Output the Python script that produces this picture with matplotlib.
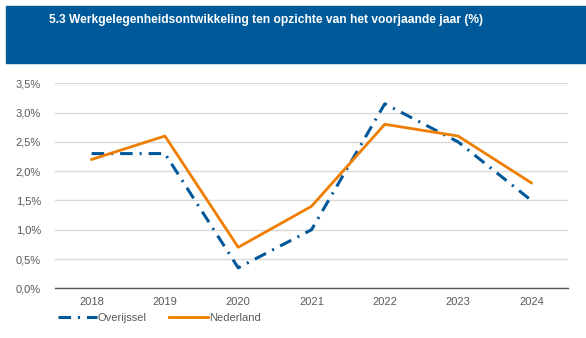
import matplotlib
matplotlib.use('Agg')
import matplotlib.pyplot as plt
from matplotlib.patches import Rectangle
from matplotlib.ticker import FuncFormatter

years = ['2018', '2019', '2020', '2021', '2022', '2023', '2024']
overijssel = [2.3, 2.3, 0.35, 1.0, 3.15, 2.5, 1.5]
nederland = [2.2, 2.6, 0.7, 1.4, 2.8, 2.6, 1.8]
title = '5.3 Werkgelegenheidsontwikkeling ten opzichte van het voorjaande jaar (%)'

plt.rcParams['font.family'] = ['Liberation Sans', 'DejaVu Sans']
plt.rcParams['lines.scale_dashes'] = False

W, H = 586, 338
fig = plt.figure(figsize=(W / 100, H / 100), dpi=100)

# blue header band
fig.patches.append(Rectangle((6 / W, 1 - 63 / H), 1 - 6 / W, 57 / H,
                             transform=fig.transFigure, color='#005A9A', zorder=0))
fig.text(49 / W, 1 - 20.5 / H, title, color='white', fontsize=8.65,
         fontweight='bold', va='center', ha='left')

ax = fig.add_axes([55 / W, 1 - 288.3 / H, 513 / W, 205 / H])
x = range(len(years))
ax.plot(x, overijssel, color='#00589A', lw=2.2,
        linestyle=(0, (9, 5, 1.5, 5)), label='Overijssel')
ax.plot(x, nederland, color='#EE7D00', lw=2.0, label='Nederland')

ax.set_xlim(-0.5, len(years) - 0.5)
ax.set_ylim(0, 3.5)
ax.set_yticks([i * 0.5 for i in range(8)])
ax.yaxis.set_major_formatter(FuncFormatter(lambda v, p: f'{v:.1f}%'.replace('.', ',')))
ax.set_xticks(list(x))
ax.set_xticklabels(years)
ax.grid(axis='y', color='#D9D9D9', lw=1)
ax.set_axisbelow(True)
for s in ['top', 'right', 'left']:
    ax.spines[s].set_visible(False)
ax.spines['bottom'].set_color('#595959')
ax.spines['bottom'].set_linewidth(1)
ax.tick_params(length=0, labelsize=8, colors='#595959')
ax.tick_params(axis='y', pad=10)
ax.tick_params(axis='x', pad=6)

fig.legend(loc='center left', bbox_to_anchor=(58 / W, 1 - 318 / H), ncol=2,
           frameon=False, fontsize=8, handlelength=3.5, handletextpad=0.1,
           columnspacing=2.0, borderpad=0, borderaxespad=0, labelcolor='#595959')

fig.savefig('out.png', dpi=100)
